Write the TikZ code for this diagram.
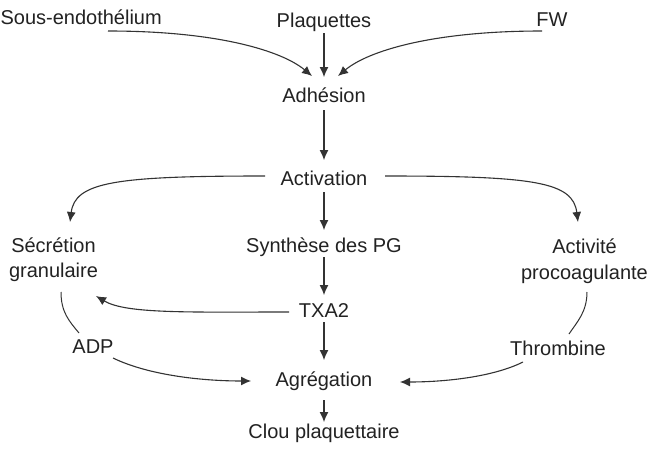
\documentclass[tikz,border=0pt]{standalone}
\usepackage{fontspec}
\setmainfont{Liberation Sans}
\usetikzlibrary{arrows.meta}
\definecolor{ink}{HTML}{222222}
\definecolor{wire}{HTML}{333333}
\tikzset{
  lab/.style={inner sep=0pt, anchor=base, text=ink, font=\fontsize{20}{24}\selectfont},
  arr/.style={draw=wire, line width=1.1pt, -{Latex[length=10pt,width=9pt]}},
  plain/.style={draw=wire, line width=1pt}
}
\begin{document}
\begin{tikzpicture}[x=1pt,y=1pt]
\useasboundingbox[fill=white] (0,0) rectangle (657,-450);
% nodes
\node[lab, anchor=base east] (sous) at (162,-24) {Sous-endothélium};
\node[lab] (plaq) at (324,-27) {Plaquettes};
\node[lab] (fw) at (552,-26) {FW};
\node[lab] (adh) at (324,-102) {Adhésion};
\node[lab] (act) at (324,-185) {Activation};
\node[lab] (syn) at (324,-252) {Synthèse des PG};
\node[lab] (seca) at (53.5,-252) {Sécrétion};
\node[lab] (secb) at (53.5,-277) {granulaire};
\node[lab] (acta) at (584.5,-253) {Activité};
\node[lab] (actb) at (584.5,-279) {procoagulante};
\node[lab] (txa) at (324,-317) {TXA2};
\node[lab] (adp) at (93,-353) {ADP};
\node[lab] (thr) at (558,-355) {Thrombine};
\node[lab] (agr) at (324,-386) {Agrégation};
\node[lab] (clou) at (324,-438) {Clou plaquettaire};
% top inputs
\draw[arr] ([xshift=-54pt,yshift=-7pt]sous.base east) .. controls +(110,0) and +(-30,25) .. ([xshift=-12pt,yshift=26pt]adh.base);
\draw[arr] ([xshift=-10pt,yshift=-5pt]fw.base) .. controls +(-110,0) and +(30,25) .. ([xshift=14pt,yshift=26pt]adh.base);
\draw[arr] ([yshift=-6pt]plaq.base) -- ([yshift=25pt]adh.base);
% central column
\draw[arr] ([yshift=-8pt]adh.base) -- ([yshift=25pt]act.base);
\draw[arr] ([yshift=-7pt]act.base) -- ([yshift=22pt]syn.base);
\draw[arr] ([yshift=-5pt]syn.base) -- ([yshift=22pt]txa.base);
\draw[arr] ([yshift=-5pt]txa.base) -- ([yshift=26pt]agr.base);
\draw[arr] ([yshift=-14pt]agr.base) -- ([yshift=16pt]clou.base);
% side branches
\draw[arr] ([xshift=-59pt,yshift=9pt]act.base) .. controls +(-150,0) and +(5,40) .. ([xshift=16.5pt,yshift=30pt]seca.base);
\draw[arr] ([xshift=61pt,yshift=9pt]act.base) .. controls +(150,0) and +(-5,40) .. ([xshift=-6.5pt,yshift=31pt]acta.base);
\draw[arr] ([xshift=-35pt,yshift=5pt]txa.base) .. controls +(-100,0) and +(30,-18) .. ([xshift=42.5pt,yshift=-19pt]secb.base);
\draw[plain] ([xshift=7.5pt,yshift=-15pt]secb.base) .. controls +(0,-20) and +(-10,12) .. ([xshift=-14pt,yshift=20pt]adp.base);
\draw[plain] ([xshift=2.5pt,yshift=-13pt]actb.base) .. controls +(0,-20) and +(8,12) .. ([xshift=11pt,yshift=21pt]thr.base);
\draw[arr] ([xshift=20pt,yshift=-5pt]adp.base) .. controls +(35,-17) and +(-50,0) .. ([xshift=-73pt,yshift=5pt]agr.base);
\draw[arr] ([xshift=-35pt,yshift=-7pt]thr.base) .. controls +(-30,-15) and +(45,0) .. ([xshift=76pt,yshift=4pt]agr.base);
\end{tikzpicture}
\end{document}
